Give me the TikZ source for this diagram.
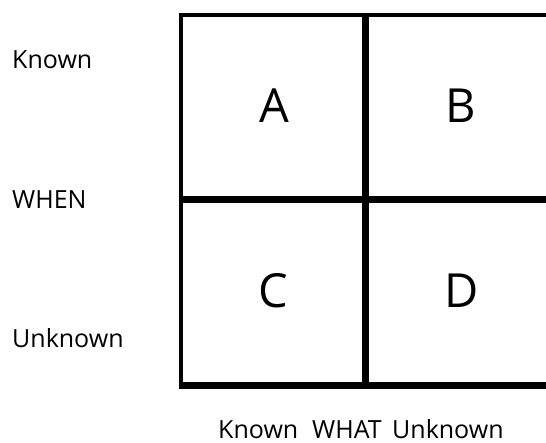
\documentclass[tikz,border=0pt]{standalone}
\usepackage{fontspec}
\setmainfont{Open Sans}
\begin{document}
\begin{tikzpicture}[x=1pt,y=-1pt,
  grid/.style={draw=black,line cap=butt},
  lab/.style={inner sep=0pt,anchor=base west,font=\fontsize{25}{30}\selectfont},
  big/.style={inner sep=0pt,anchor=base,font=\fontsize{47}{56}\selectfont}]
\useasboundingbox (0,0) rectangle (546,442);
% grid lines
\draw[grid,line width=4pt] (179.3,15.3) -- (546,15.3);
\draw[grid,line width=4pt] (181.3,13.3) -- (181.3,389);
\draw[grid,line width=7pt] (365.7,13.3) -- (365.7,389);
\draw[grid,line width=6.5pt] (179.3,199.3) -- (546,199.3);
\draw[grid,line width=7pt] (179.3,385.5) -- (546,385.5);
% cell letters
\node[big] (A) at (274.5,122) {A};
\node[big] (B) at (460.5,122) {B};
\node[big] (C) at (273.5,307.5) {C};
\node[big] (D) at (461.5,307.5) {D};
% side labels
\node[lab] (k1) at (12,68) {Known};
\node[lab] (when) at (12,208) {WHEN};
\node[lab] (u1) at (12,347) {Unknown};
% bottom labels
\node[lab] (k2) at (218,438) {Known};
\node[lab] (what) at (312,438) {WHAT};
\node[lab] (u2) at (392,438) {Unknown};
\end{tikzpicture}
\end{document}
